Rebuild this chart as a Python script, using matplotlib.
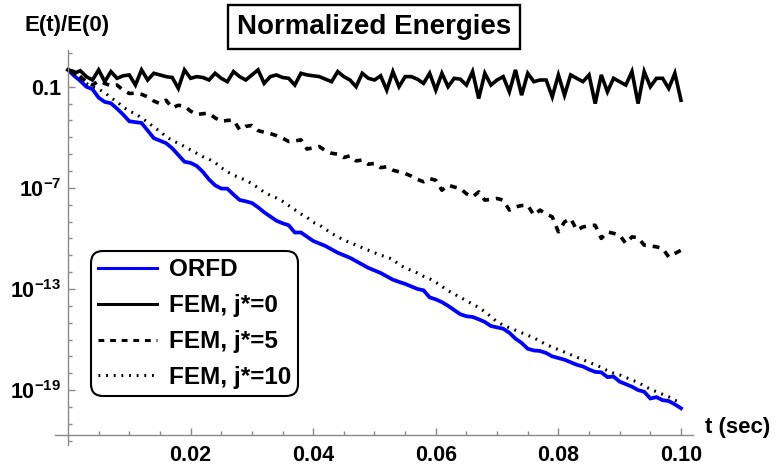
import numpy as np
import matplotlib
matplotlib.use("Agg")
import matplotlib.pyplot as plt
from matplotlib.ticker import FixedLocator, NullFormatter

plt.rcParams['font.family'] = ['Liberation Sans', 'DejaVu Sans']
plt.rcParams['font.weight'] = 'bold'
plt.rcParams['mathtext.fontset'] = 'custom'
plt.rcParams['mathtext.rm'] = 'Liberation Sans:bold'
plt.rcParams['mathtext.bf'] = 'Liberation Sans:bold'
plt.rcParams['mathtext.default'] = 'rm'

# time grid, one sample per millisecond
t = np.linspace(0.0, 0.1, 101)

# log10 of E(t)/E(0)
orfd_log = [
    0.00, -0.35, -0.65, -1.00, -1.15, -1.65, -1.90, -1.98, -2.30, -2.65,
    -3.05, -3.10, -3.15, -3.60, -4.05, -4.20, -4.35, -4.65, -5.05, -5.45,
    -5.52, -5.70, -6.05, -6.50, -6.85, -7.04, -7.05, -7.40, -7.72, -7.80,
    -7.90, -8.15, -8.45, -8.70, -8.95, -9.10, -9.22, -9.65, -9.65, -9.90,
    -10.15, -10.30, -10.45, -10.65, -10.85, -11.00, -11.15, -11.35, -11.55, -11.75,
    -11.90, -12.05, -12.25, -12.45, -12.58, -12.70, -12.85, -13.00, -13.08, -13.50,
    -13.62, -13.78, -14.00, -14.25, -14.50, -14.62, -14.66, -14.80, -14.96, -15.20,
    -15.28, -15.36, -15.60, -15.95, -16.20, -16.55, -16.65, -16.68, -16.80, -17.00,
    -17.10, -17.20, -17.35, -17.50, -17.60, -17.78, -17.92, -17.95, -18.23, -18.20,
    -18.50, -18.65, -18.80, -19.00, -19.10, -19.50, -19.42, -19.60, -19.65, -19.85,
    -20.08,
]

fem0_log = [
    0.00, -0.20, -0.05, -0.40, -0.60, 0.00, -0.70, -0.10, -0.50, -0.35,
    -0.30, -0.90, 0.00, -0.60, -0.20, -0.30, -0.40, -0.45, -1.10, 0.00,
    -0.50, -0.40, -0.45, -0.60, -0.20, -0.50, -0.70, -0.10, -0.40, -0.60,
    -0.30, 0.00, -0.80, -0.40, -0.30, -0.45, -0.50, -0.90, -0.20, -0.30,
    -0.35, -0.40, -0.55, -0.70, -0.10, -0.40, -0.60, -1.00, -0.20, -0.50,
    -0.60, -0.35, -1.20, -0.10, -1.00, -0.40, -0.40, -0.55, -0.80, -0.20,
    -1.20, -0.20, -1.00, -0.50, -0.55, -0.90, -0.10, -1.70, -0.20, -0.90,
    -0.60, -0.40, -1.30, 0.00, -1.50, -0.20, -0.70, -0.60, -0.60, -1.60,
    -0.30, -1.50, -0.30, -0.50, -0.70, -0.30, -2.00, -0.30, -1.30, -0.50,
    -0.70, -0.90, -0.10, -2.00, -0.10, -1.00, -0.50, -0.50, -1.10, -0.20,
    -1.80,
]

fem5_log = [
    0.00, -0.10, -0.40, -0.70, -0.90, -0.65, -0.80, -0.95, -0.90, -1.20,
    -1.40, -1.38, -1.45, -1.60, -1.85, -2.00, -1.80, -2.25, -2.10, -2.15,
    -2.45, -2.65, -2.60, -2.58, -2.85, -3.05, -3.00, -2.98, -3.55, -3.35,
    -3.30, -3.60, -3.70, -3.78, -3.90, -4.05, -4.25, -4.22, -4.15, -4.70,
    -4.62, -4.55, -4.80, -4.95, -5.00, -5.20, -5.10, -5.40, -5.35, -5.60,
    -5.55, -5.80, -5.75, -5.95, -6.05, -6.15, -6.30, -6.50, -6.64, -6.45,
    -6.55, -7.14, -6.84, -6.95, -7.04, -7.35, -7.54, -7.24, -7.73, -7.68,
    -7.63, -7.73, -8.32, -8.13, -8.05, -8.03, -8.62, -8.32, -8.55, -8.72,
    -9.61, -9.02, -8.82, -9.51, -9.32, -9.25, -9.22, -10.00, -9.61, -9.70,
    -9.81, -10.30, -9.91, -9.95, -10.40, -10.45, -10.50, -10.60, -11.10, -10.90,
    -10.70,
]

fem10_log = [
    0.00, -0.25, -0.55, -0.80, -1.00, -1.15, -1.35, -1.65, -1.90, -2.20,
    -2.45, -2.60, -2.85, -3.10, -3.40, -3.65, -3.95, -4.20, -4.35, -4.55,
    -4.75, -4.95, -5.15, -5.30, -5.50, -5.80, -6.05, -6.25, -6.40, -6.55,
    -6.75, -7.00, -7.25, -7.45, -7.60, -7.80, -8.05, -8.30, -8.55, -8.75,
    -9.05, -9.20, -9.45, -9.70, -9.90, -10.10, -10.25, -10.40, -10.55, -10.70,
    -10.85, -11.00, -11.10, -11.25, -11.55, -11.75, -11.90, -12.05, -12.25, -12.40,
    -12.60, -12.85, -13.10, -13.30, -13.50, -13.70, -13.90, -14.10, -14.35, -14.65,
    -14.95, -15.15, -15.30, -15.45, -15.60, -15.75, -15.90, -16.10, -16.30, -16.45,
    -16.60, -16.75, -16.90, -17.05, -17.20, -17.35, -17.50, -17.65, -17.85, -18.00,
    -18.10, -18.25, -18.40, -18.55, -18.75, -18.95, -19.10, -19.25, -19.40, -19.60,
    -19.75,
]

labels = ["ORFD", "FEM, j*=0", "FEM, j*=5", "FEM, j*=10"]

x_ticks = [0.02, 0.04, 0.06, 0.08, 0.10]
x_tick_labels = ["0.02", "0.04", "0.06", "0.08", "0.10"]
y_ticks = [1e-1, 1e-7, 1e-13, 1e-19]
y_tick_labels = ["0.1", r"$10^{-7}$", r"$10^{-13}$", r"$10^{-19}$"]

axis_gray = '#8a8a8a'

fig = plt.figure(figsize=(7.79, 4.72), dpi=100)
ax = fig.add_axes([55 / 779, 27 / 472, 638 / 779, 395 / 472])

ax.semilogy(t, 10.0 ** np.array(orfd_log), color='#0000ff', lw=2.7,
            label=labels[0], solid_joinstyle='miter')
ax.semilogy(t, 10.0 ** np.array(fem0_log), color='black', lw=2.6,
            label=labels[1], solid_joinstyle='miter')
ax.semilogy(t, 10.0 ** np.array(fem5_log), color='black', lw=2.6,
            dashes=(1.9, 1.9), label=labels[2])
ax.semilogy(t, 10.0 ** np.array(fem10_log), color='black', lw=2.2,
            dashes=(0.6, 1.9), label=labels[3])

ax.set_xlim(-0.00212, 0.10196)
ax.set_ylim(10 ** -22.26, 10 ** 1.18)

for side in ('top', 'right'):
    ax.spines[side].set_visible(False)
ax.spines['left'].set_position(('data', 0.0))
ax.spines['bottom'].set_position(('data', 10 ** -21.67))
for side in ('left', 'bottom'):
    ax.spines[side].set_color(axis_gray)
    ax.spines[side].set_linewidth(1.0)

ax.xaxis.set_major_locator(FixedLocator(x_ticks))
ax.set_xticklabels(x_tick_labels)
ax.xaxis.set_minor_locator(FixedLocator(
    [0.005, 0.015, 0.025, 0.035, 0.045, 0.055, 0.065, 0.075, 0.085, 0.095,
     0.01, 0.03, 0.05, 0.07, 0.09]))
ax.xaxis.set_minor_formatter(NullFormatter())

ax.yaxis.set_major_locator(FixedLocator(y_ticks))
ax.set_yticklabels(y_tick_labels)
ax.yaxis.set_minor_locator(FixedLocator(
    [10.0 ** k for k in range(-22, 2) if k not in (-1, -7, -13, -19)]))
ax.yaxis.set_minor_formatter(NullFormatter())

ax.tick_params(which='both', direction='in', color=axis_gray, width=1.0,
               labelsize=15.5, labelcolor='black')
ax.tick_params(which='major', length=5)
ax.tick_params(which='minor', length=3)
ax.tick_params(axis='x', which='major', pad=7)
ax.tick_params(axis='y', which='major', pad=5)
for lab in ax.get_xticklabels() + ax.get_yticklabels():
    lab.set_fontweight('bold')

fig.text(374 / 779, 1 - 27 / 472, "Normalized Energies", ha='center',
         va='center', fontsize=20, fontweight='bold',
         bbox=dict(boxstyle='square,pad=0.33', fc='white', ec='black', lw=1.7))
fig.text(67 / 779, 1 - 26 / 472, "E(t)/E(0)", ha='center', va='center',
         fontsize=16, fontweight='bold')
fig.text(738 / 779, 1 - 428 / 472, "t (sec)", ha='center', va='center',
         fontsize=16, fontweight='bold')

leg = ax.legend(loc='upper left', bbox_to_anchor=(91 / 779, 1 - 251 / 472),
                bbox_transform=fig.transFigure, prop={'weight': 'bold', 'size': 17.5},
                handlelength=2.4, handletextpad=0.5, labelspacing=0.53,
                borderpad=0.3, borderaxespad=0.0, fancybox=True, framealpha=1.0)
leg.get_frame().set_edgecolor('black')
leg.get_frame().set_linewidth(1.5)
leg.get_frame().set_boxstyle('round,pad=0,rounding_size=0.5')
# thinner line samples in the legend, as in the source figure
for handle in leg.get_lines():
    handle.set_linewidth(2.2)

fig.savefig('out.png', dpi=100)
